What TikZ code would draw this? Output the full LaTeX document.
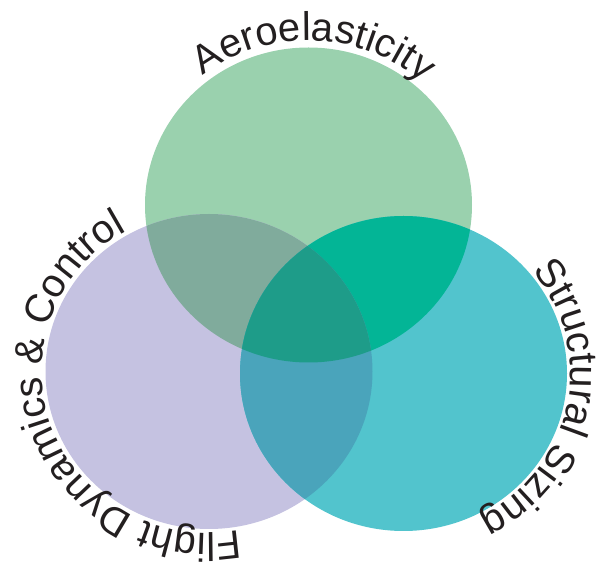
\documentclass[tikz,border=0pt]{standalone}
\usepackage{fontspec}
\setmainfont{Liberation Sans}
\usetikzlibrary{decorations.text}

% circle fills and their overlaps
\definecolor{aerogreen}{HTML}{9AD1AE}
\definecolor{flightpurple}{HTML}{C5C2E1}
\definecolor{sizingteal}{HTML}{52C4CD}
\definecolor{aeroflight}{HTML}{80AB9C}
\definecolor{aerosizing}{HTML}{03B596}
\definecolor{flightsizing}{HTML}{4AA4BB}
\definecolor{allthree}{HTML}{1E9C89}
\definecolor{labelink}{HTML}{231F20}

\newcommand\vennlabelfont{\fontsize{40}{48}\selectfont}

\tikzset{
  venn/.style={x radius=163.5, y radius=157.5},
  arclabel/.style={decorate, decoration={text along path, text align=center,
      text color=labelink, text={#1}}}
}

\begin{document}
\begin{tikzpicture}[x=1pt,y=1pt]
\useasboundingbox (0,0) rectangle (598,568);

% circle centres
\coordinate (ae) at (308.5,363);
\coordinate (fd) at (209,196.5);
\coordinate (ss) at (403.5,194.5);

% the three sets
\fill[aerogreen] (ae) ellipse[venn];
\fill[flightpurple] (fd) ellipse[venn];
\fill[sizingteal] (ss) ellipse[venn];

% pairwise overlaps
\begin{scope}
  \clip (ae) ellipse[venn];
  \fill[aeroflight] (fd) ellipse[venn];
  \fill[aerosizing] (ss) ellipse[venn];
\end{scope}
\begin{scope}
  \clip (fd) ellipse[venn];
  \fill[flightsizing] (ss) ellipse[venn];
  % centre region shared by all three
  \clip (ss) ellipse[venn];
  \fill[allthree] (ae) ellipse[venn];
\end{scope}

% curved labels, set on arcs just outside each circle
\path (ae) ++(160:170.5 and 164.5) coordinate (aelabel);
\path (fd) ++(300:167.5 and 161.5) coordinate (fdlabel);
\path (ss) ++(60:167 and 161) coordinate (sslabel);

\begin{scope}[execute at begin scope={\vennlabelfont}]
\path[arclabel={Aeroelasticity}] (aelabel)
  arc[start angle=160, end angle=16, x radius=170.5, y radius=164.5];
\path[arclabel={Flight Dynamics {\&} Control}] (fdlabel)
  arc[start angle=300, end angle=100, x radius=167.5, y radius=161.5];
\path[arclabel={Structural Sizing}] (sslabel)
  arc[start angle=60, end angle=-83, x radius=167, y radius=161];
\end{scope}
\end{tikzpicture}
\end{document}
